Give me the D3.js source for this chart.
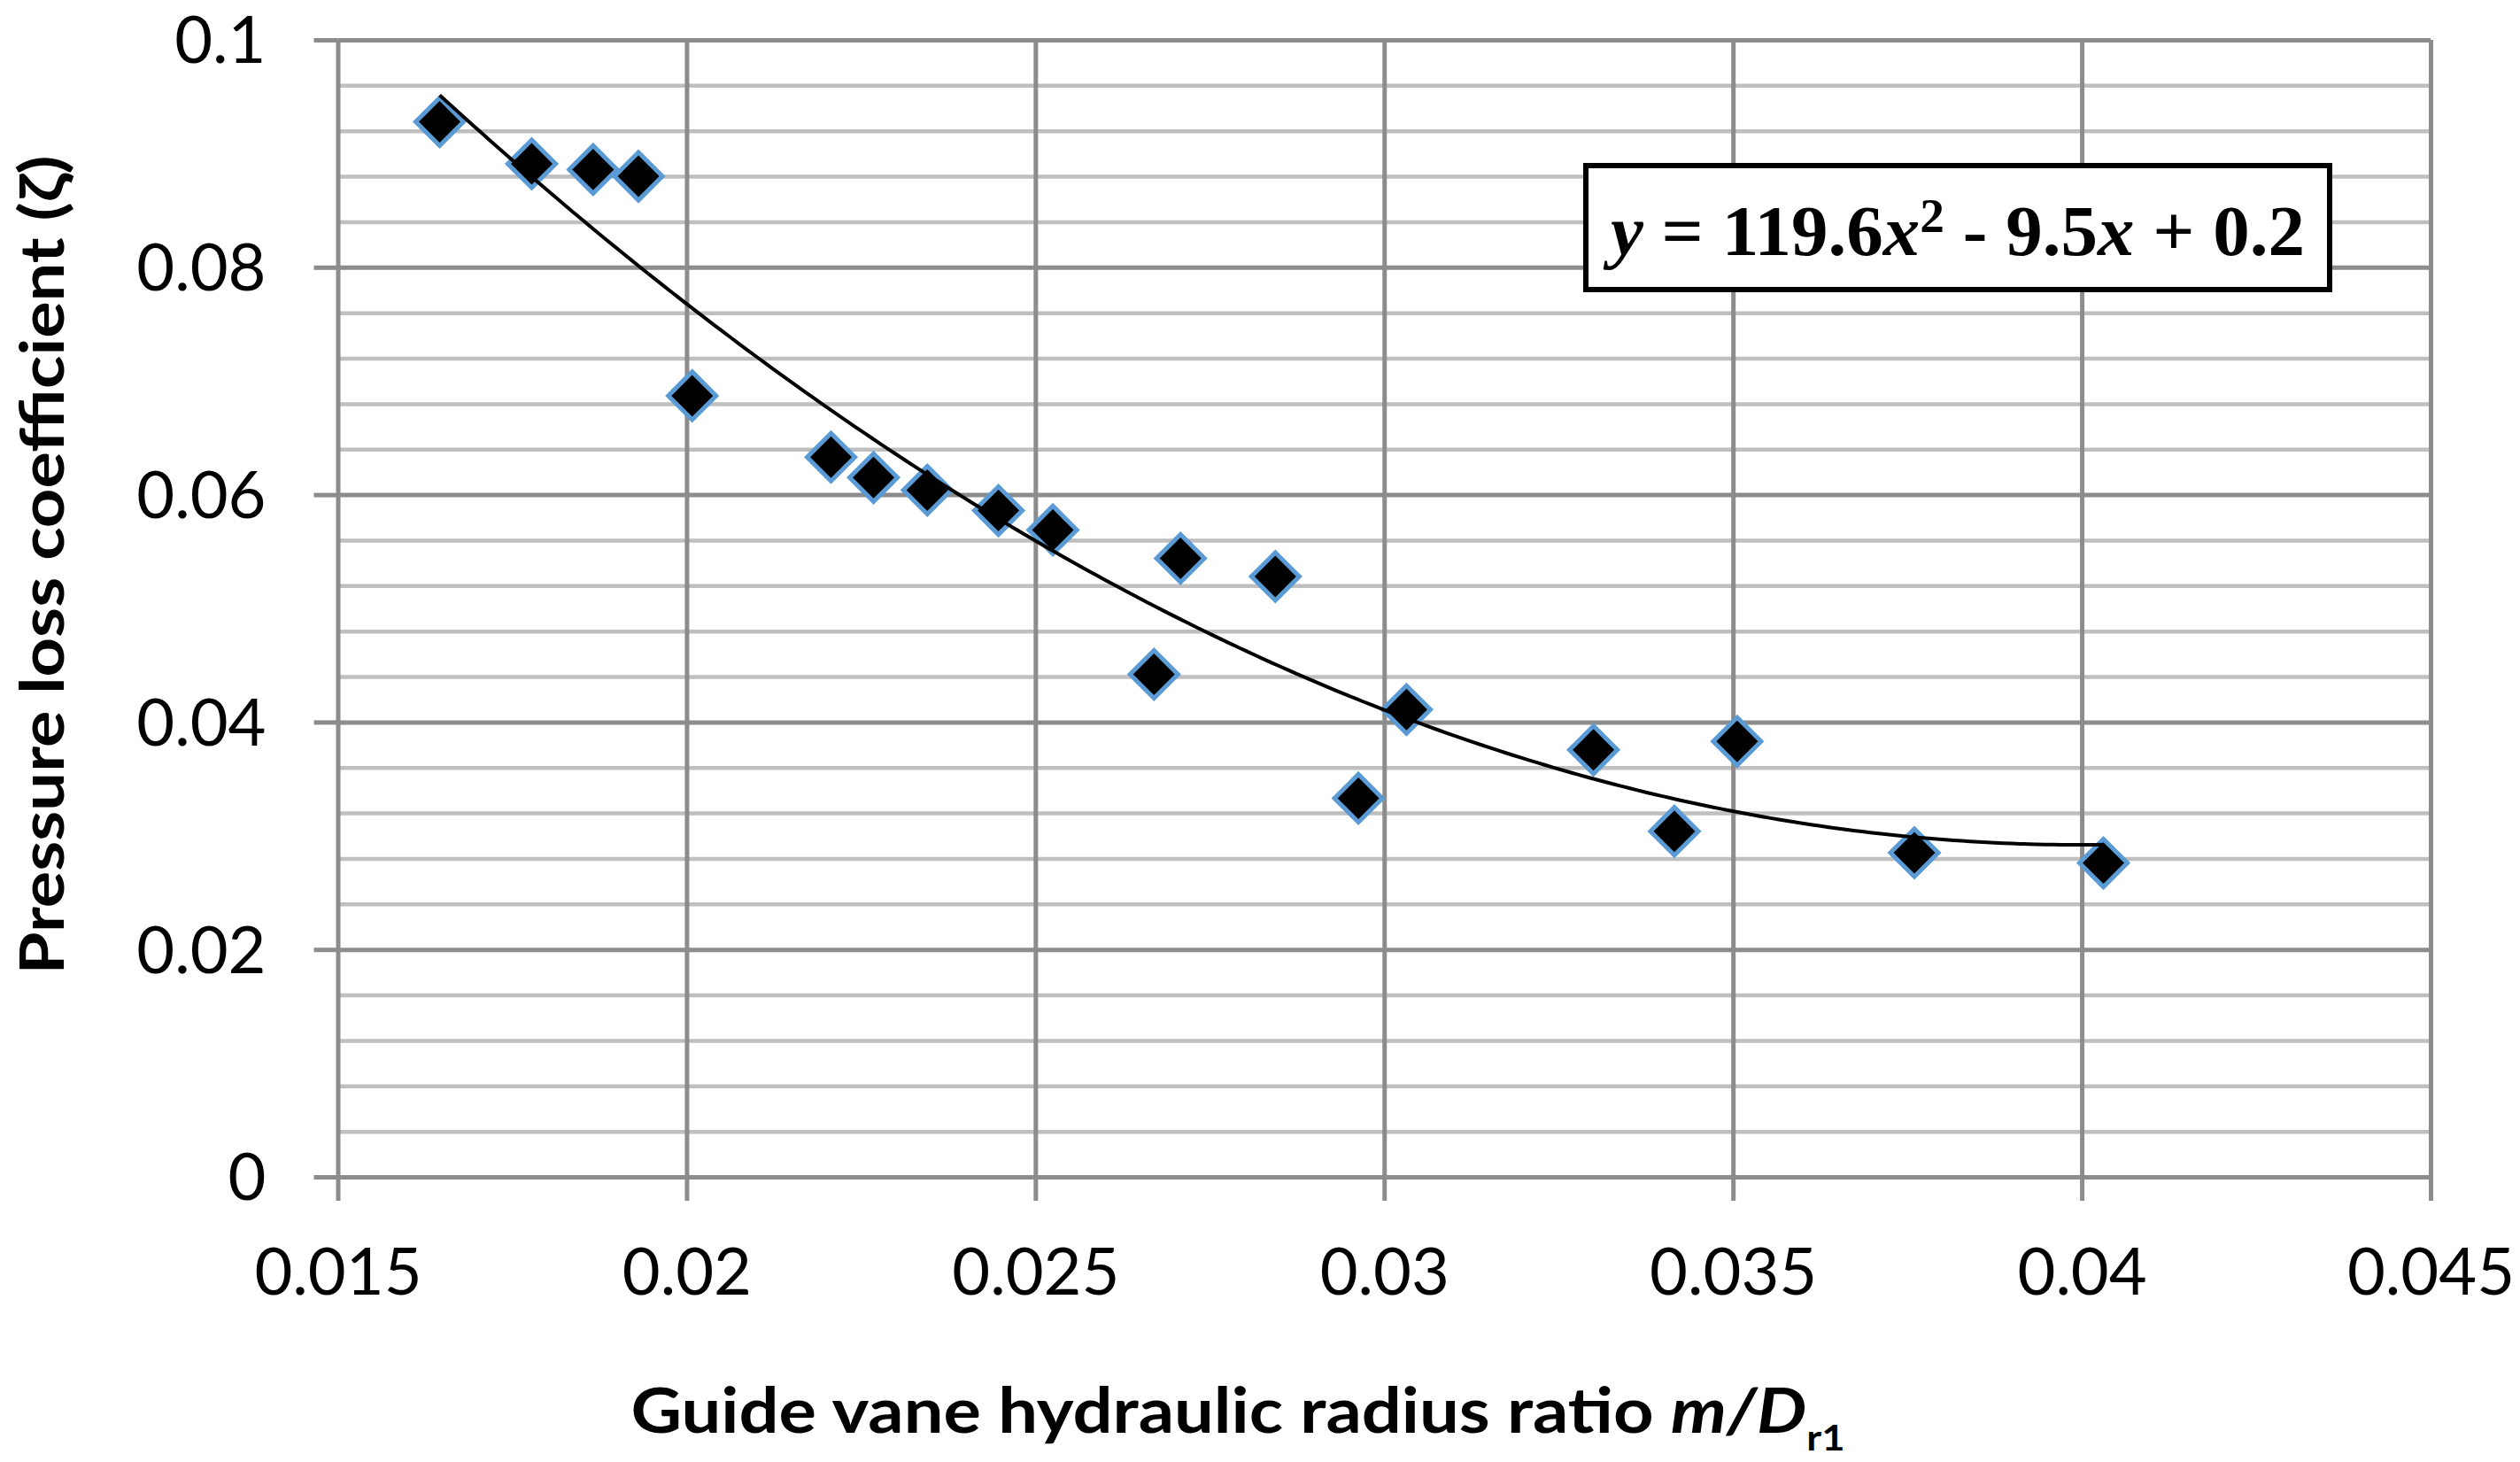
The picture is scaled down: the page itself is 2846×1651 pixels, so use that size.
<!DOCTYPE html>
<html>
<head>
<meta charset="utf-8">
<script src="https://cdn.jsdelivr.net/npm/d3@7"></script>
<style>
  body { margin: 0; background: #fff; }
  svg { display: block; }
</style>
</head>
<body>
<svg id="chart" width="2846" height="1651"></svg>
<script>
// data
const ratio = [0.01646, 0.01778, 0.01866, 0.01931, 0.02008, 0.02207, 0.02268, 0.02345, 0.02447, 0.02525,
               0.02670, 0.02708, 0.02844, 0.02963, 0.03032, 0.03300, 0.03416, 0.03506, 0.03760, 0.04031];
const zeta  = [0.0928, 0.0891, 0.0886, 0.0880, 0.0687, 0.0633, 0.0615, 0.0604, 0.0586, 0.0569,
               0.0442, 0.0544, 0.0528, 0.0333, 0.0411, 0.03755, 0.0304, 0.0383, 0.0285, 0.0276];

const xTicks = [0.015, 0.02, 0.025, 0.03, 0.035, 0.04, 0.045];
const xTickLabels = ["0.015", "0.02", "0.025", "0.03", "0.035", "0.04", "0.045"];
const yTicks = [0, 0.02, 0.04, 0.06, 0.08, 0.1];
const yTickLabels = ["0", "0.02", "0.04", "0.06", "0.08", "0.1"];
const equationText = ["119.6", "2", " - 9.5", " + 0.2"];

const svg = d3.select("#chart");
const width = +svg.attr("width");
const height = +svg.attr("height");
const margins = { top: 45, right: 101, bottom: 322, left: 381.5 };
const plotWidth = width - margins.left - margins.right;
const plotHeight = height - margins.top - margins.bottom;

svg.append("rect").attr("width", width).attr("height", height).attr("fill", "#fff");

let chartArea = svg.append("g")
    .attr("transform", "translate(" + margins.left + ", " + margins.top + ")");

const xScale = d3.scaleLinear().domain([0.015, 0.045]).range([0, plotWidth]);
const yScale = d3.scaleLinear().domain([0, 0.1]).range([plotHeight, 0]);

// minor horizontal grid
const yMinor = d3.range(0.004, 0.1, 0.004).filter(v => Math.abs(v / 0.02 - Math.round(v / 0.02)) > 1e-6);
chartArea.append("g")
    .call(d3.axisLeft(yScale).tickValues(yMinor).tickSize(-plotWidth).tickFormat(""))
    .call(g => g.select(".domain").remove())
    .call(g => g.selectAll("line").attr("stroke", "#bfbfbf").attr("stroke-width", 4.5));

// major grid
chartArea.append("g")
    .call(d3.axisLeft(yScale).tickValues(yTicks).tickSize(-plotWidth).tickFormat(""))
    .call(g => g.select(".domain").remove())
    .call(g => g.selectAll("line").attr("stroke", "#8c8c8c").attr("stroke-width", 5));
chartArea.append("g")
    .call(d3.axisBottom(xScale).tickValues(xTicks).tickSize(-plotHeight).tickFormat(""))
    .attr("transform", "translate(0, " + plotHeight + ")")
    .call(g => g.select(".domain").remove())
    .call(g => g.selectAll("line").attr("stroke", "#8c8c8c").attr("stroke-width", 5));

// axes with outward ticks
const yAxis = d3.axisLeft(yScale).tickValues(yTicks).tickSize(27).tickPadding(54)
    .tickFormat((d, i) => yTickLabels[i]);
const xAxis = d3.axisBottom(xScale).tickValues(xTicks).tickSize(27)
    .tickFormat((d, i) => xTickLabels[i]);

chartArea.append("g")
    .call(yAxis)
    .call(g => g.select(".domain").remove())
    .call(g => g.selectAll("line").attr("stroke", "#8c8c8c").attr("stroke-width", 5))
    .call(g => g.selectAll("text").attr("dy", "0.35em")
        .attr("font-family", "Lato, sans-serif").attr("font-size", 74).attr("fill", "#000"));

chartArea.append("g")
    .attr("transform", "translate(0, " + plotHeight + ")")
    .call(xAxis)
    .call(g => g.select(".domain").remove())
    .call(g => g.selectAll("line").attr("stroke", "#8c8c8c").attr("stroke-width", 5))
    .call(g => g.selectAll("text").attr("y", 133).attr("dy", null)
        .attr("font-family", "Lato, sans-serif").attr("font-size", 74).attr("fill", "#000"));

// points
chartArea.selectAll(".pt")
    .data(ratio.map((r, i) => [r, zeta[i]]))
    .enter().append("path")
    .attr("class", "pt")
    .attr("d", d3.symbol().type(d3.symbolSquare).size(1460))
    .attr("transform", d => "translate(" + xScale(d[0]) + "," + yScale(d[1]) + ") rotate(45)")
    .attr("fill", "#000")
    .attr("stroke", "#5b9bd5")
    .attr("stroke-width", 5);

// polynomial trendline (least squares, order 2)
function quadFit(xs, ys) {
    const u = xs.map(x => (x - 0.03) * 100);
    const s = [0, 0, 0, 0, 0], t = [0, 0, 0];
    u.forEach((v, i) => {
        for (let k = 0; k < 5; k++) s[k] += Math.pow(v, k);
        for (let k = 0; k < 3; k++) t[k] += Math.pow(v, k) * ys[i];
    });
    const A = [[s[0], s[1], s[2], t[0]], [s[1], s[2], s[3], t[1]], [s[2], s[3], s[4], t[2]]];
    for (let c = 0; c < 3; c++) {
        for (let r = c + 1; r < 3; r++) {
            const f = A[r][c] / A[c][c];
            for (let k = c; k < 4; k++) A[r][k] -= f * A[c][k];
        }
    }
    const coef = [0, 0, 0];
    for (let r = 2; r >= 0; r--) {
        let v = A[r][3];
        for (let k = r + 1; k < 3; k++) v -= A[r][k] * coef[k];
        coef[r] = v / A[r][r];
    }
    return x => { const v = (x - 0.03) * 100; return coef[0] + coef[1] * v + coef[2] * v * v; };
}
const fit = quadFit(ratio, zeta);
const xMin = d3.min(ratio), xMax = d3.max(ratio);
const trend = d3.range(0, 201).map(i => xMin + (xMax - xMin) * i / 200);

chartArea.append("path")
    .datum(trend)
    .attr("fill", "none")
    .attr("stroke", "#000")
    .attr("stroke-width", 4)
    .attr("d", d3.line().x(d => xScale(d)).y(d => yScale(fit(d))));

// equation box
const box = svg.append("g");
box.append("rect")
    .attr("x", 1791).attr("y", 187).attr("width", 840).attr("height", 140)
    .attr("fill", "#fff").attr("stroke", "#000").attr("stroke-width", 6);
const eq = box.append("text")
    .attr("x", 2211).attr("y", 288)
    .attr("text-anchor", "middle")
    .attr("font-family", "'Liberation Serif', 'Times New Roman', serif")
    .attr("font-weight", "bold")
    .attr("font-size", 81)
    .attr("textLength", 784).attr("lengthAdjust", "spacingAndGlyphs");
eq.append("tspan").attr("font-style", "italic").text("y");
eq.append("tspan").text(" = " + equationText[0]);
eq.append("tspan").attr("font-style", "italic").text("x");
eq.append("tspan").attr("font-size", 54).attr("dy", -26).text(equationText[1]);
eq.append("tspan").attr("dy", 26).text(equationText[2]);
eq.append("tspan").attr("font-style", "italic").text("x");
eq.append("tspan").text(equationText[3]);

// axis titles
const yTitle = svg.append("text")
    .attr("transform", "translate(72, 638) rotate(-90)")
    .attr("text-anchor", "middle")
    .attr("font-family", "Lato, sans-serif")
    .attr("font-weight", "bold")
    .attr("font-size", 68)
    .attr("textLength", 925).attr("lengthAdjust", "spacingAndGlyphs")
    .text("Pressure loss coefficient (ζ)");

const xTitle = svg.append("text")
    .attr("x", 1398).attr("y", 1618)
    .attr("text-anchor", "middle")
    .attr("font-family", "Lato, sans-serif")
    .attr("font-weight", "bold")
    .attr("font-size", 70)
    .attr("textLength", 1371).attr("lengthAdjust", "spacingAndGlyphs");
xTitle.append("tspan").text("Guide vane hydraulic radius ratio ");
xTitle.append("tspan").attr("font-style", "italic").text("m/D");
xTitle.append("tspan").attr("font-size", 40).attr("dy", 20).text("r1");
</script>
</body>
</html>
